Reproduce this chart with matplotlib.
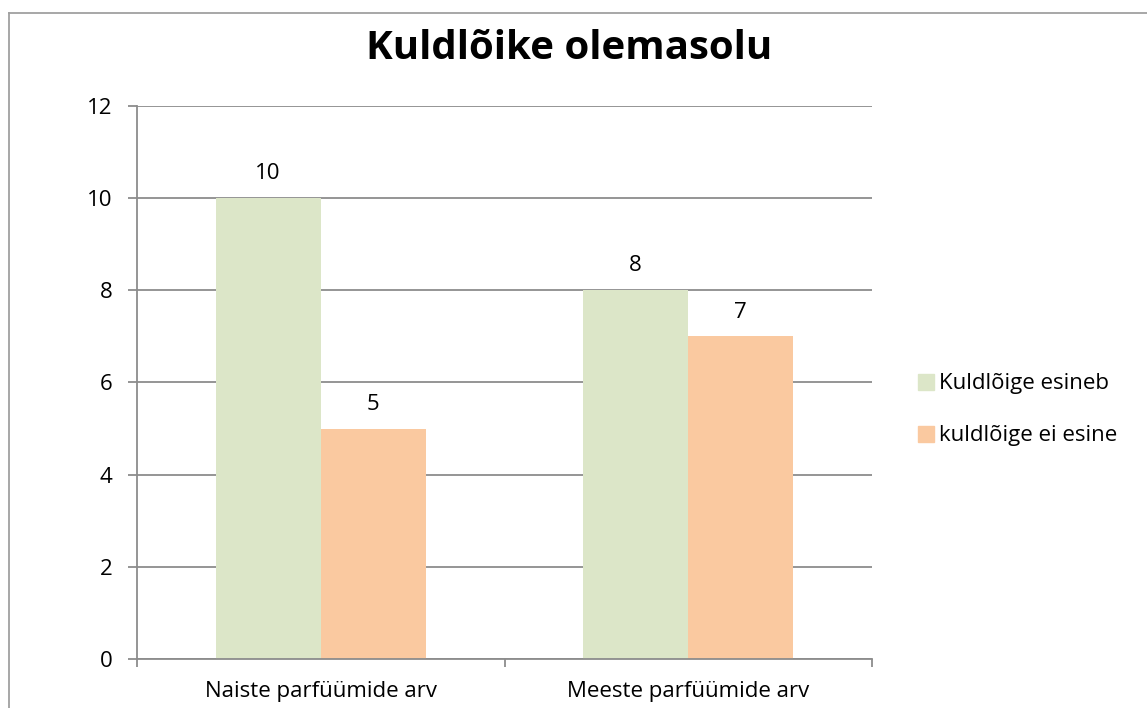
import matplotlib
matplotlib.use("Agg")
import matplotlib.pyplot as plt
from matplotlib.lines import Line2D
import numpy as np

plt.rcParams["font.family"] = ["Open Sans", "DejaVu Sans"]

CATEGORIES = ["Naiste parfüümide arv", "Meeste parfüümide arv"]
SERIES = ["Kuldlõige esineb", "kuldlõige ei esine"]
VALUES = [[10, 8], [5, 7]]
COLORS = ["#DCE6C8", "#FAC9A0"]
GRID_C = "#8C8C8C"
FS = 16

fig = plt.figure(figsize=(11.47, 7.08), dpi=100)
ax = fig.add_axes([0.1194, 0.0692, 0.6409, 0.7811])

x = np.arange(len(CATEGORIES))
w = 0.286
for i, (name, vals, col) in enumerate(zip(SERIES, VALUES, COLORS)):
    pos = x + (i - 0.5) * w
    bars = ax.bar(pos, vals, width=w, color=col, label=name, zorder=2)
    for b, v in zip(bars, vals):
        ax.annotate(str(v), (b.get_x() + b.get_width() / 2, v), xytext=(0, 10),
                    textcoords="offset points", ha="center", va="bottom", fontsize=FS)

ax.set_xlim(-0.5, 1.5)
ax.set_ylim(0, 12)
ax.set_yticks(range(0, 13, 2))
ax.yaxis.grid(True, color=GRID_C, lw=1.3, zorder=0)
ax.set_axisbelow(True)
for s in ["top", "right"]:
    ax.spines[s].set_visible(False)
for s in ["left", "bottom"]:
    ax.spines[s].set_color(GRID_C)
    ax.spines[s].set_linewidth(1.3)
ax.tick_params(axis="y", length=6.5, color=GRID_C, width=1.3, labelsize=FS, pad=11)
ax.set_xticks(x)
ax.set_xticklabels(CATEGORIES)
ax.tick_params(axis="x", which="major", length=0, labelsize=FS, pad=16)
ax.set_xticks([-0.5, 0.5, 1.5], minor=True)
ax.tick_params(axis="x", which="minor", length=6, color=GRID_C, width=1.3)

fig.text(0.496, 0.932, "Kuldlõike olemasolu", ha="center", va="center",
         fontsize=29, fontweight="bold")

handles = [Line2D([], [], marker="s", ls="", markersize=12, color=c) for c in COLORS]
fig.legend(handles, SERIES, loc="center left", bbox_to_anchor=(0.783, 0.421),
           frameon=False, fontsize=FS, handlelength=0.7, handletextpad=0.25,
           labelspacing=1.4)

# outer chart-area border (top and left edges visible)
fig.add_artist(Line2D([0.0078, 1.0], [0.9816, 0.9816], color="#A0A0A0", lw=1.3,
                      transform=fig.transFigure))
fig.add_artist(Line2D([0.0078, 0.0078], [0.0, 0.9816], color="#A0A0A0", lw=1.3,
                      transform=fig.transFigure))

fig.savefig("out.png", dpi=100)
